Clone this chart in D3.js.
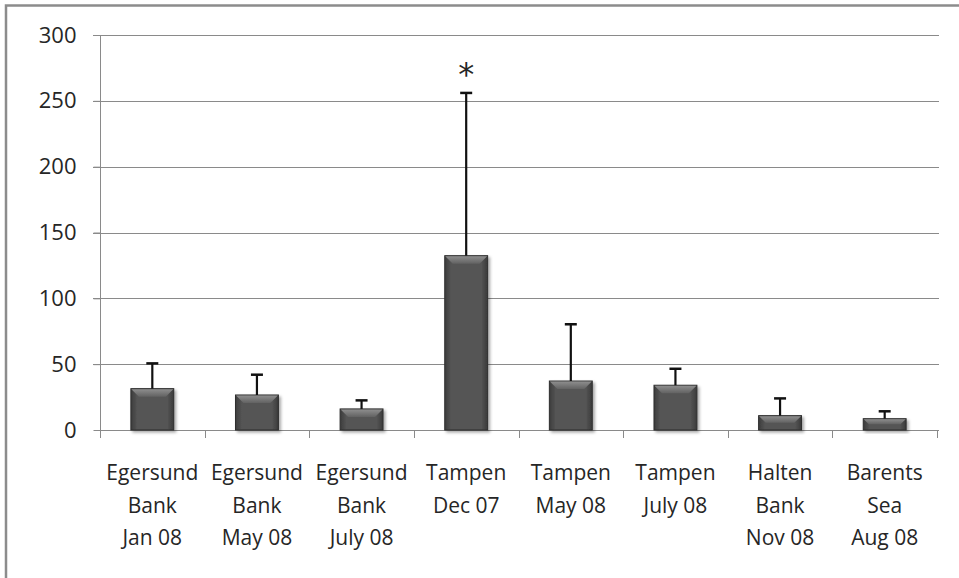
<!DOCTYPE html>
<html>
<head>
<meta charset="utf-8">
<script src="https://cdn.jsdelivr.net/npm/d3@7"></script>
<style>
  body { margin: 0; background: #fff; }
  text { font-family: "Open Sans", sans-serif; fill: #262626; }
</style>
</head>
<body>
<svg id="chart" width="959" height="578"></svg>
<script>
const sites = [
  ["Egersund", "Bank", "Jan 08"],
  ["Egersund", "Bank", "May 08"],
  ["Egersund", "Bank", "July 08"],
  ["Tampen", "Dec 07"],
  ["Tampen", "May 08"],
  ["Tampen", "July 08"],
  ["Halten", "Bank", "Nov 08"],
  ["Barents", "Sea", "Aug 08"]
];
const means = [31.4, 26.6, 16, 132.4, 37.2, 34, 10.9, 8.6];
const upper = [50.6, 42, 22.5, 256, 80.3, 46.5, 24, 14.2];
const yTicks = [0, 50, 100, 150, 200, 250, 300];
const marked = [3];

const svg = d3.select("#chart");
const margin = { left: 100, right: 22, top: 35, bottom: 148 };
const W = 959, H = 578;

// frame (only top and left edge visible in the original)
svg.append("path")
  .attr("d", `M6,${H} V5.5 H${W}`)
  .attr("fill", "none")
  .attr("stroke", "#8c8c8c")
  .attr("stroke-width", 2.5);

const x = d3.scaleBand()
  .domain(d3.range(sites.length))
  .range([margin.left, W - margin.right])
  .paddingInner(0.59)
  .paddingOuter(0.295);

const xTicksScale = d3.scaleLinear()
  .domain([0, sites.length])
  .range([margin.left, W - margin.right]);

const y = d3.scaleLinear()
  .domain([0, 300])
  .range([H - margin.bottom, margin.top]);

// gridlines
svg.append("g")
  .selectAll("line")
  .data(yTicks.filter(d => d > 0))
  .join("line")
  .attr("x1", margin.left - 7)
  .attr("x2", W - margin.right + 2)
  .attr("y1", d => Math.round(y(d)) + 0.5)
  .attr("y2", d => Math.round(y(d)) + 0.5)
  .attr("stroke", "#8a8a8a")
  .attr("stroke-width", 1);

// y axis
const yAxis = svg.append("g")
  .attr("transform", `translate(${margin.left + 0.5},0)`)
  .call(d3.axisLeft(y).tickValues(yTicks).tickSize(7).tickPadding(17));
yAxis.select(".domain").attr("stroke", "#8a8a8a").attr("d", `M0,${y(300)}V${y(0)}`);
yAxis.selectAll(".tick line").attr("stroke", "#8a8a8a");
yAxis.selectAll(".tick text")
  .style("font-size", "22px")
  .style("font-family", "'Open Sans', sans-serif")
  .attr("fill", "#262626");

// x axis line + ticks
const xg = svg.append("g");
xg.append("line")
  .attr("x1", margin.left).attr("x2", W - margin.right + 2)
  .attr("y1", Math.round(y(0)) + 0.5).attr("y2", Math.round(y(0)) + 0.5)
  .attr("stroke", "#8a8a8a");
xg.selectAll("line.tick")
  .data(d3.range(sites.length + 1))
  .join("line")
  .attr("class", "tick")
  .attr("x1", d => Math.round(xTicksScale(d)) + 0.5)
  .attr("x2", d => Math.round(xTicksScale(d)) + 0.5)
  .attr("y1", y(0))
  .attr("y2", y(0) + 8)
  .attr("stroke", "#8a8a8a");

// defs: gradients and shadow
const defs = svg.append("defs");
const bodyGrad = defs.append("linearGradient").attr("id", "bodyGrad")
  .attr("x1", 0).attr("x2", 1).attr("y1", 0).attr("y2", 0);
bodyGrad.append("stop").attr("offset", "0%").attr("stop-color", "#3c3c3c");
bodyGrad.append("stop").attr("offset", "15%").attr("stop-color", "#555");
bodyGrad.append("stop").attr("offset", "85%").attr("stop-color", "#555");
bodyGrad.append("stop").attr("offset", "100%").attr("stop-color", "#3a3a3a");
const topGrad = defs.append("linearGradient").attr("id", "topGrad")
  .attr("x1", 0).attr("x2", 0).attr("y1", 0).attr("y2", 1);
topGrad.append("stop").attr("offset", "0%").attr("stop-color", "#8e8e8e");
topGrad.append("stop").attr("offset", "100%").attr("stop-color", "#626262");
const shadow = defs.append("filter").attr("id", "shadow")
  .attr("x", "-20%").attr("y", "-20%").attr("width", "150%").attr("height", "150%");
shadow.append("feDropShadow")
  .attr("dx", 2).attr("dy", 2).attr("stdDeviation", 1.5)
  .attr("flood-color", "#000").attr("flood-opacity", 0.35);

// bars
const bars = svg.append("g")
  .selectAll("g")
  .data(means)
  .join("g");

bars.append("rect")
  .attr("x", (d, i) => x(i))
  .attr("y", d => y(d))
  .attr("width", x.bandwidth())
  .attr("height", d => y(0) - y(d))
  .attr("fill", "url(#bodyGrad)")
  .attr("stroke", "#2e2e2e")
  .attr("stroke-width", 1)
  .attr("filter", "url(#shadow)");

// bevel on top
bars.append("path")
  .attr("d", (d, i) => {
    const x0 = x(i), x1 = x(i) + x.bandwidth(), t = y(d);
    const b = Math.min(8, (y(0) - y(d)) / 2);
    return `M${x0 + 0.5},${t + 0.5} L${x1 - 0.5},${t + 0.5} L${x1 - b},${t + b} L${x0 + b},${t + b} Z`;
  })
  .attr("fill", "url(#topGrad)");

// error bars
const err = svg.append("g")
  .selectAll("g")
  .data(upper)
  .join("g");
err.append("line")
  .attr("x1", (d, i) => x(i) + x.bandwidth() / 2)
  .attr("x2", (d, i) => x(i) + x.bandwidth() / 2)
  .attr("y1", (d, i) => y(means[i]))
  .attr("y2", d => y(d))
  .attr("stroke", "#111")
  .attr("stroke-width", 2.2);
err.append("line")
  .attr("x1", (d, i) => x(i) + x.bandwidth() / 2 - 6)
  .attr("x2", (d, i) => x(i) + x.bandwidth() / 2 + 6)
  .attr("y1", d => y(d))
  .attr("y2", d => y(d))
  .attr("stroke", "#111")
  .attr("stroke-width", 2.5);

// significance marker
svg.append("g")
  .selectAll("text")
  .data(marked)
  .join("text")
  .attr("x", i => x(i) + x.bandwidth() / 2)
  .attr("y", i => y(upper[i]) - 8)
  .attr("text-anchor", "middle")
  .style("font-size", "32px")
  .style("font-family", "'DejaVu Sans', sans-serif")
  .attr("fill", "#111")
  .text("*");

// category labels
const labels = svg.append("g")
  .selectAll("text")
  .data(sites)
  .join("text")
  .attr("text-anchor", "middle")
  .style("font-size", "21px")
  .attr("x", (d, i) => x(i) + x.bandwidth() / 2)
  .attr("y", y(0) + 50);
labels.selectAll("tspan")
  .data(d => d)
  .join("tspan")
  .attr("x", function () { return d3.select(this.parentNode).attr("x"); })
  .attr("dy", (d, j) => j === 0 ? 0 : 32.5)
  .text(d => d);
</script>
</body>
</html>
